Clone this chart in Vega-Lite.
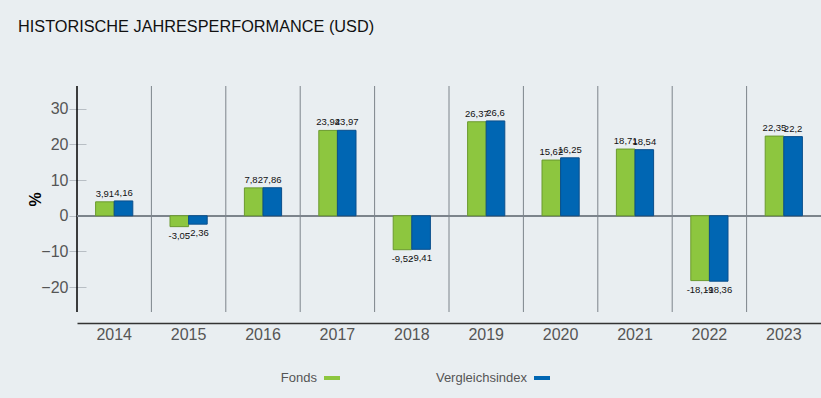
{
  "$schema": "https://vega.github.io/schema/vega-lite/v6.json",
  "width": 744,
  "height": 226,
  "autosize": {"type": "none"},
  "padding": {"left": 77, "top": 86, "right": 0, "bottom": 86},
  "background": "#e9eef1",
  "title": {"text": "HISTORISCHE JAHRESPERFORMANCE (USD)", "anchor": "start", "frame": "group", "dx": -59, "offset": 50, "fontSize": 16.3, "font": "Liberation Sans", "fontWeight": "normal", "color": "#111"},
  "config": {
    "view": {"stroke": null},
    "font": "Liberation Sans"
  },
  "data": {
    "values": [
      {"year": "2014", "series": "Fonds", "value": 3.91, "label": "3,91"},
      {"year": "2014", "series": "Vergleichsindex", "value": 4.16, "label": "4,16"},
      {"year": "2015", "series": "Fonds", "value": -3.05, "label": "-3,05"},
      {"year": "2015", "series": "Vergleichsindex", "value": -2.36, "label": "-2,36"},
      {"year": "2016", "series": "Fonds", "value": 7.82, "label": "7,82"},
      {"year": "2016", "series": "Vergleichsindex", "value": 7.86, "label": "7,86"},
      {"year": "2017", "series": "Fonds", "value": 23.94, "label": "23,94"},
      {"year": "2017", "series": "Vergleichsindex", "value": 23.97, "label": "23,97"},
      {"year": "2018", "series": "Fonds", "value": -9.52, "label": "-9,52"},
      {"year": "2018", "series": "Vergleichsindex", "value": -9.41, "label": "-9,41"},
      {"year": "2019", "series": "Fonds", "value": 26.37, "label": "26,37"},
      {"year": "2019", "series": "Vergleichsindex", "value": 26.6, "label": "26,6"},
      {"year": "2020", "series": "Fonds", "value": 15.62, "label": "15,62"},
      {"year": "2020", "series": "Vergleichsindex", "value": 16.25, "label": "16,25"},
      {"year": "2021", "series": "Fonds", "value": 18.71, "label": "18,71"},
      {"year": "2021", "series": "Vergleichsindex", "value": 18.54, "label": "18,54"},
      {"year": "2022", "series": "Fonds", "value": -18.19, "label": "-18,19"},
      {"year": "2022", "series": "Vergleichsindex", "value": -18.36, "label": "-18,36"},
      {"year": "2023", "series": "Fonds", "value": 22.35, "label": "22,35"},
      {"year": "2023", "series": "Vergleichsindex", "value": 22.2, "label": "22,2"}
    ]
  },
  "layer": [
    {
      "transform": [{"filter": "datum.series == 'Fonds' && datum.year != '2014'"}],
      "mark": {"type": "rule", "color": "#7d848b", "strokeWidth": 1},
      "encoding": {
        "x": {"field": "year", "type": "ordinal", "bandPosition": 0, "scale": {"paddingInner": 0, "paddingOuter": 0},
          "axis": {"title": null, "offset": 11, "domainColor": "#333", "domainWidth": 1.5, "ticks": false, "labelAngle": 0, "labelFontSize": 16, "labelColor": "#555", "labelPadding": 3, "grid": false}}
      }
    },
    {
      "transform": [{"filter": "datum.series == 'Fonds' && datum.year == '2014'"}],
      "mark": {"type": "rule", "color": "#000", "strokeWidth": 1.5},
      "encoding": {
        "x": {"field": "year", "type": "ordinal", "bandPosition": 0, "scale": {"paddingInner": 0, "paddingOuter": 0},
          "axis": {"title": null, "offset": 11, "domainColor": "#333", "domainWidth": 1.5, "ticks": false, "labelAngle": 0, "labelFontSize": 16, "labelColor": "#555", "labelPadding": 3, "grid": false}}
      }
    },
    {
      "mark": {"type": "rule", "color": "#7d848b", "strokeWidth": 1},
      "encoding": {
        "y": {"datum": 0, "type": "quantitative", "scale": {"domain": [-27, 36.4], "nice": false, "zero": false},
          "axis": {"title": "%", "titleFontSize": 16, "titleFontWeight": "bold", "titleColor": "#000", "titlePadding": -3, "values": [-20, -10, 0, 10, 20, 30], "offset": -9, "tickSize": 17, "tickColor": "#b8bec4", "domain": false, "grid": false, "labelFontSize": 16, "labelColor": "#555", "labelPadding": 1}}
      }
    },
    {
      "mark": {"type": "bar", "strokeWidth": 1},
      "encoding": {
        "x": {"field": "year", "type": "ordinal", "scale": {"paddingInner": 0, "paddingOuter": 0},
          "axis": {"title": null, "offset": 11, "domainColor": "#333", "domainWidth": 1.5, "ticks": false, "labelAngle": 0, "labelFontSize": 16, "labelColor": "#555", "labelPadding": 3, "grid": false}},
        "xOffset": {"field": "series", "type": "nominal", "sort": ["Fonds", "Vergleichsindex"], "scale": {"paddingInner": 0, "paddingOuter": 1}},
        "y": {"field": "value", "type": "quantitative", "scale": {"domain": [-27, 36.4], "nice": false, "zero": false},
          "axis": {"title": "%", "titleFontSize": 16, "titleFontWeight": "bold", "titleColor": "#000", "titlePadding": -3, "values": [-20, -10, 0, 10, 20, 30], "offset": -9, "tickSize": 17, "tickColor": "#b8bec4", "domain": false, "grid": false, "labelFontSize": 16, "labelColor": "#555", "labelPadding": 1}},
        "y2": {"datum": 0},
        "color": {"field": "series", "type": "nominal", "scale": {"domain": ["Fonds", "Vergleichsindex"], "range": ["#8dc63f", "#0066b3"]},
          "legend": {
            "orient": "none",
            "legendX": 247,
            "legendY": 284,
            "direction": "horizontal",
            "title": null,
            "symbolType": "M-1,-0.25H1V0.25H-1Z",
            "symbolSize": 256,
            "symbolStrokeWidth": 0,
            "labelAlign": "right",
            "labelOffset": -23,
            "labelFontSize": 13,
            "labelColor": "#555",
            "labelFont": "Liberation Sans",
            "columnPadding": 95
          }},
        "stroke": {"field": "series", "type": "nominal", "scale": {"domain": ["Fonds", "Vergleichsindex"], "range": ["#6b9a2e", "#0a4f8c"]}, "legend": null}
      }
    },
    {
      "transform": [{"filter": "datum.value >= 0"}],
      "mark": {"type": "text", "baseline": "bottom", "dy": -3, "fontSize": 9.5, "color": "#111"},
      "encoding": {
        "x": {"field": "year", "type": "ordinal", "scale": {"paddingInner": 0, "paddingOuter": 0},
          "axis": {"title": null, "offset": 11, "domainColor": "#333", "domainWidth": 1.5, "ticks": false, "labelAngle": 0, "labelFontSize": 16, "labelColor": "#555", "labelPadding": 3, "grid": false}},
        "xOffset": {"field": "series", "type": "nominal", "sort": ["Fonds", "Vergleichsindex"], "scale": {"paddingInner": 0, "paddingOuter": 1}},
        "y": {"field": "value", "type": "quantitative", "scale": {"domain": [-27, 36.4], "nice": false, "zero": false},
          "axis": {"title": "%", "titleFontSize": 16, "titleFontWeight": "bold", "titleColor": "#000", "titlePadding": -3, "values": [-20, -10, 0, 10, 20, 30], "offset": -9, "tickSize": 17, "tickColor": "#b8bec4", "domain": false, "grid": false, "labelFontSize": 16, "labelColor": "#555", "labelPadding": 1}},
        "text": {"field": "label"}
      }
    },
    {
      "transform": [{"filter": "datum.value < 0"}],
      "mark": {"type": "text", "baseline": "top", "dy": 4, "fontSize": 9.5, "color": "#111"},
      "encoding": {
        "x": {"field": "year", "type": "ordinal", "scale": {"paddingInner": 0, "paddingOuter": 0},
          "axis": {"title": null, "offset": 11, "domainColor": "#333", "domainWidth": 1.5, "ticks": false, "labelAngle": 0, "labelFontSize": 16, "labelColor": "#555", "labelPadding": 3, "grid": false}},
        "xOffset": {"field": "series", "type": "nominal", "sort": ["Fonds", "Vergleichsindex"], "scale": {"paddingInner": 0, "paddingOuter": 1}},
        "y": {"field": "value", "type": "quantitative", "scale": {"domain": [-27, 36.4], "nice": false, "zero": false},
          "axis": {"title": "%", "titleFontSize": 16, "titleFontWeight": "bold", "titleColor": "#000", "titlePadding": -3, "values": [-20, -10, 0, 10, 20, 30], "offset": -9, "tickSize": 17, "tickColor": "#b8bec4", "domain": false, "grid": false, "labelFontSize": 16, "labelColor": "#555", "labelPadding": 1}},
        "text": {"field": "label"}
      }
    }
  ]
}
